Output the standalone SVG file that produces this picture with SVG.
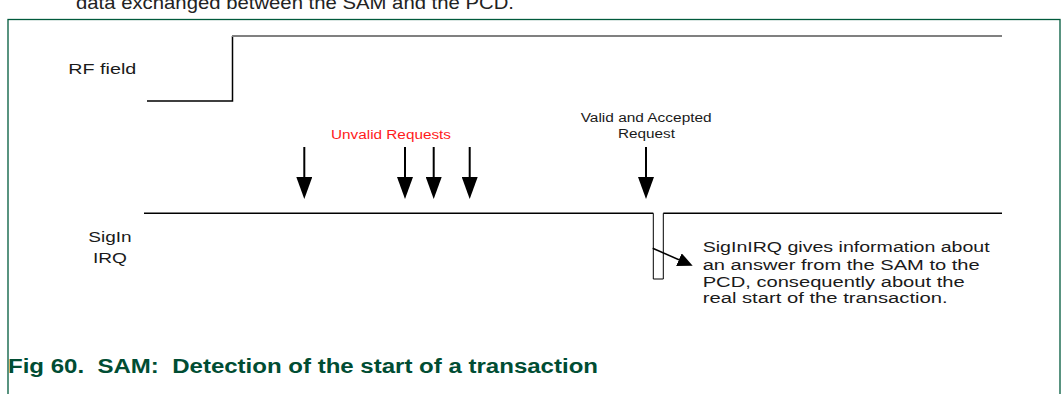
<svg xmlns="http://www.w3.org/2000/svg" width="1064" height="394" viewBox="0 0 1064 394">
<style>
text{font-family:"Liberation Sans",Arial,sans-serif;}
.lbl{font-size:15px;fill:#1a1a1a;}
.note{font-size:15.5px;fill:#1a1a1a;}
.sm{font-size:12.5px;fill:#1a1a1a;}
.red{font-size:12.5px;fill:#ff1a1a;}
.cap{font-size:20px;font-weight:bold;fill:#004d33;white-space:pre;}
.sig{fill:none;stroke:#000;stroke-width:1.5;}
.arr{stroke:#000;stroke-width:2;fill:none;}
</style>
<defs>
<marker id="ah" markerUnits="userSpaceOnUse" viewBox="0 0 22 16" refX="8" refY="8" markerWidth="22" markerHeight="16" orient="auto">
<path d="M0,0 L22,8 L0,16 z" fill="#000"/>
</marker>
<marker id="ah2" markerUnits="userSpaceOnUse" viewBox="0 0 15 14" refX="5" refY="7" markerWidth="15" markerHeight="14" orient="auto">
<path d="M0,0 L15,7 L0,14 z" fill="#000"/>
</marker>
</defs>
<rect width="1064" height="394" fill="#fff"/>
<text x="76" y="9" font-size="19" fill="#222" textLength="438" lengthAdjust="spacingAndGlyphs">data exchanged between the SAM and the PCD.</text>
<rect x="8" y="19.5" width="1052" height="400" fill="none" stroke="#005a3c" stroke-width="1.3"/>
<g id="rf-field">
<text class="lbl" x="68.3" y="74" textLength="68" lengthAdjust="spacingAndGlyphs">RF field</text>
<polyline class="sig" points="147,101 232.5,101 232.5,36" stroke-width="1.2" stroke="#333"/>
<line x1="232" y1="36" x2="1002" y2="36" stroke="#808080" stroke-width="2"/>
</g>
<g id="sigin-irq">
<text class="lbl" x="88.3" y="241.7" textLength="43.3" lengthAdjust="spacingAndGlyphs">SigIn</text>
<text class="lbl" x="93" y="263.3" textLength="34" lengthAdjust="spacingAndGlyphs">IRQ</text>
<polyline class="sig" points="144,213.3 653.3,213.3"/>
<polyline class="sig" points="663.3,213.3 1002,213.3"/>
<polyline fill="none" stroke="#000" stroke-width="1" points="653.3,213.3 653.3,279 663.3,279 663.3,213.3"/>
</g>
<g id="unvalid-requests">
<text class="red" x="331" y="139" textLength="120" lengthAdjust="spacingAndGlyphs">Unvalid Requests</text>
</g>
<g id="valid-request">
<text class="sm" x="580.7" y="122" textLength="131" lengthAdjust="spacingAndGlyphs">Valid and Accepted</text>
<text class="sm" x="618" y="138.3" textLength="57" lengthAdjust="spacingAndGlyphs">Request</text>
</g>
<g id="note">
<text class="note" x="702.7" y="252.3" textLength="287" lengthAdjust="spacingAndGlyphs">SigInIRQ gives information about</text>
<text class="note" x="702.7" y="269.5" textLength="277" lengthAdjust="spacingAndGlyphs">an answer from the SAM to the</text>
<text class="note" x="702.7" y="286.5" textLength="262" lengthAdjust="spacingAndGlyphs">PCD, consequently about the</text>
<text class="note" x="702.7" y="303.3" textLength="245" lengthAdjust="spacingAndGlyphs">real start of the transaction.</text>
</g>
<g id="connectors">
<line class="arr" x1="304.3" y1="147" x2="304.3" y2="185" marker-end="url(#ah)"/>
<line class="arr" x1="405" y1="147" x2="405" y2="185" marker-end="url(#ah)"/>
<line class="arr" x1="433.7" y1="147" x2="433.7" y2="185" marker-end="url(#ah)"/>
<line class="arr" x1="469.7" y1="147" x2="469.7" y2="185" marker-end="url(#ah)"/>
<line class="arr" x1="646" y1="147" x2="646" y2="185" marker-end="url(#ah)"/>
<line stroke="#000" stroke-width="1.5" x1="652.7" y1="248.3" x2="683.5" y2="261.7" marker-end="url(#ah2)"/>
</g>
<text class="cap" x="8" y="373" textLength="590" lengthAdjust="spacingAndGlyphs">Fig 60.  SAM:  Detection of the start of a transaction</text>
</svg>
